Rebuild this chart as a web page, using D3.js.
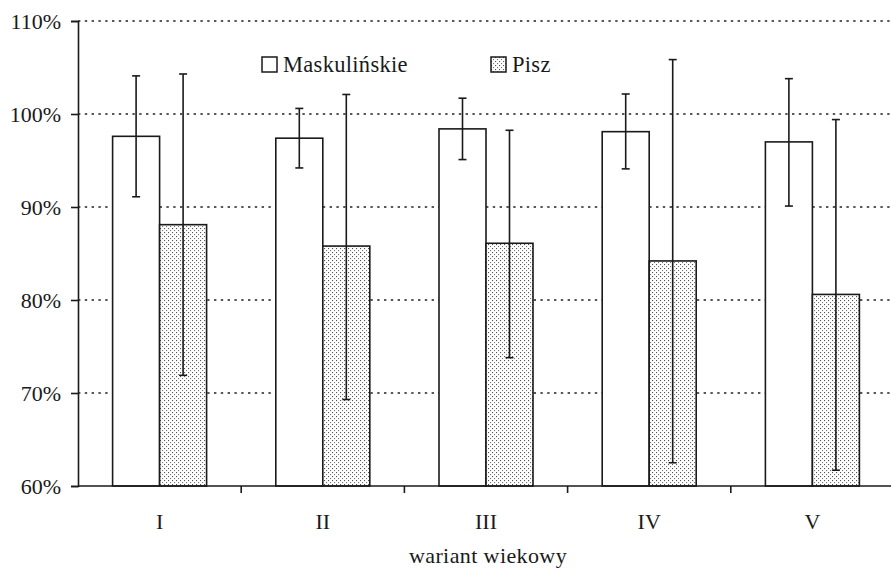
<!DOCTYPE html>
<html>
<head>
<meta charset="utf-8">
<script src="https://cdn.jsdelivr.net/npm/d3@7/dist/d3.min.js"></script>
<style>
  html, body { margin: 0; padding: 0; background: #fff; }
  svg { display: block; }
  svg text { font-family: "Liberation Serif", "Times New Roman", "DejaVu Serif", serif !important; }
</style>
</head>
<body>
<svg id="chart" width="891" height="570"></svg>
<script>
// Age variants (categories)
const categories = ["I", "II", "III", "IV", "V"];
const seriesNames = ["Maskulińskie", "Pisz"];

// Mean values (%) and error-bar bounds (%)
const maskulinskie = [97.6, 97.4, 98.4, 98.1, 97.0];
const maskulinskieHigh = [104.1, 100.6, 101.7, 102.15, 103.8];
const maskulinskieLow = [91.1, 94.2, 95.1, 94.1, 90.1];

const pisz = [88.1, 85.8, 86.1, 84.2, 80.6];
const piszHigh = [104.3, 102.1, 98.25, 105.85, 99.4];
const piszLow = [71.9, 69.3, 73.8, 62.5, 61.7];

const yTicks = [60, 70, 80, 90, 100, 110];
const xTitle = "wariant wiekowy";

const W = 891, H = 570;
const plotLeft = 78, plotRight = 894, plotTop = 21, plotBottom = 486;
const FONT = "'Liberation Serif', 'Times New Roman', 'DejaVu Serif', serif";
const INK = "#1a1a1a";

const svg = d3.select("#chart");

const defs = svg.append("defs");
const pat = defs.append("pattern")
  .attr("id", "dots")
  .attr("patternUnits", "userSpaceOnUse")
  .attr("width", 4).attr("height", 4);
pat.append("rect").attr("width", 4).attr("height", 4).attr("fill", "#fff");
pat.append("rect").attr("x", 0).attr("y", 0).attr("width", 1.1).attr("height", 1.1).attr("fill", "#555");
pat.append("rect").attr("x", 2).attr("y", 2).attr("width", 1.1).attr("height", 1.1).attr("fill", "#777");

const x = d3.scaleBand().domain(categories).range([plotLeft, plotRight]).padding(0);
const step = x.step();
const barW = step * 0.288;
const xs = d3.scaleBand().domain(seriesNames)
  .range([step / 2 - barW, step / 2 + barW]).padding(0);

const y = d3.scaleLinear().domain([60, 110]).range([plotBottom, plotTop]);

// Dotted gridlines
svg.append("g").selectAll("line")
  .data(yTicks.filter(d => d > 60))
  .join("line")
  .attr("x1", plotLeft).attr("x2", W)
  .attr("y1", d => y(d)).attr("y2", d => y(d))
  .attr("stroke", "#222")
  .attr("stroke-width", 1.6)
  .attr("stroke-dasharray", "2.4,4.4");

const data = categories.map((c, i) => ([
  { cat: c, s: seriesNames[0], v: maskulinskie[i], hi: maskulinskieHigh[i], lo: maskulinskieLow[i] },
  { cat: c, s: seriesNames[1], v: pisz[i], hi: piszHigh[i], lo: piszLow[i] }
])).flat();

const fills = { "Maskulińskie": "#fff", "Pisz": "url(#dots)" };

// Bars
svg.append("g").selectAll("rect")
  .data(data)
  .join("rect")
  .attr("x", d => x(d.cat) + xs(d.s))
  .attr("y", d => y(d.v))
  .attr("width", xs.bandwidth())
  .attr("height", d => y(60) - y(d.v))
  .attr("fill", d => fills[d.s])
  .attr("stroke", INK)
  .attr("stroke-width", 1.6);

// Error bars
const eb = svg.append("g").attr("stroke", INK).attr("stroke-width", 1.6);
const cx = d => x(d.cat) + xs(d.s) + xs.bandwidth() / 2;
const cap = 4;
eb.selectAll(".v").data(data).join("line")
  .attr("x1", cx).attr("x2", cx)
  .attr("y1", d => y(d.hi)).attr("y2", d => y(d.lo));
eb.selectAll(".h").data(data).join("line")
  .attr("x1", d => cx(d) - cap).attr("x2", d => cx(d) + cap)
  .attr("y1", d => y(d.hi)).attr("y2", d => y(d.hi));
eb.selectAll(".l").data(data).join("line")
  .attr("x1", d => cx(d) - cap).attr("x2", d => cx(d) + cap)
  .attr("y1", d => y(d.lo)).attr("y2", d => y(d.lo));

// Y axis
const yAxis = d3.axisLeft(y).tickValues(yTicks).tickFormat(d => d + "%").tickSize(7).tickPadding(10);
const gy = svg.append("g").attr("transform", `translate(${plotLeft},0)`).call(yAxis)
  .attr("font-family", FONT).attr("font-size", 22);
gy.select(".domain").attr("stroke", INK).attr("stroke-width", 1.6);
gy.selectAll(".tick line").attr("stroke", INK).attr("stroke-width", 1.6);
gy.selectAll(".tick text")
  .attr("font-size", 22).attr("fill", INK)
  .attr("font-family", FONT);

// X axis: ticks at category boundaries, labels centred
const gx = svg.append("g").attr("transform", `translate(0,${plotBottom})`);
gx.append("line").attr("x1", plotLeft).attr("x2", W).attr("y1", 0).attr("y2", 0)
  .attr("stroke", INK).attr("stroke-width", 1.6);
gx.selectAll(".bt").data(categories.slice(1)).join("line")
  .attr("x1", d => x(d)).attr("x2", d => x(d))
  .attr("y1", 0).attr("y2", 7)
  .attr("stroke", INK).attr("stroke-width", 1.6);
gx.selectAll("text").data(categories).join("text")
  .attr("x", d => x(d) + step / 2)
  .attr("y", 43)
  .attr("text-anchor", "middle")
  .attr("font-family", FONT)
  .attr("font-size", 22).attr("fill", INK)
  .text(d => d);

svg.append("text")
  .attr("x", (plotLeft + plotRight) / 2 + 2)
  .attr("y", 563)
  .attr("text-anchor", "middle")
  .attr("font-family", FONT)
  .attr("font-size", 22).attr("letter-spacing", 0.4).attr("fill", INK)
  .text(xTitle);

// Legend
const legendX = [262, 491];
const lg = svg.append("g").selectAll("g").data(seriesNames).join("g")
  .attr("transform", (d, i) => `translate(${legendX[i]},57)`);
lg.append("rect").attr("width", 15).attr("height", 15)
  .attr("fill", d => fills[d]).attr("stroke", INK).attr("stroke-width", 1.5);
lg.append("text").attr("x", 21).attr("y", 15)
  .attr("font-family", FONT)
  .attr("font-size", 22.5).attr("letter-spacing", 0.3).attr("fill", INK)
  .text(d => d);
</script>
</body>
</html>
